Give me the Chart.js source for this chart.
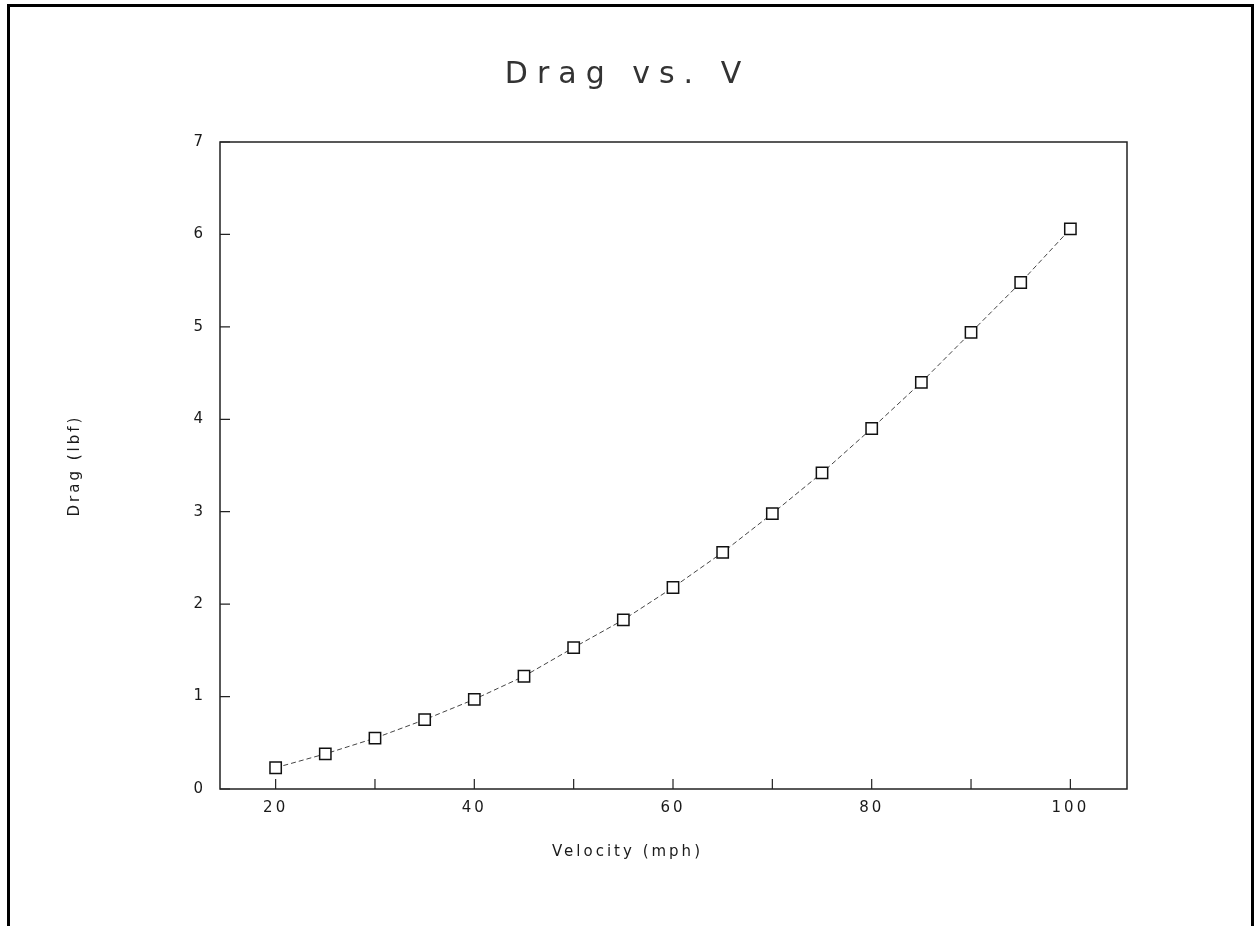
<!DOCTYPE html>
<html>
<head>
<meta charset="utf-8">
<title>Drag vs. V</title>
<script src="https://cdn.jsdelivr.net/npm/chart.js@4.4.1/dist/chart.umd.min.js"></script>
<style>
    html, body { margin: 0; padding: 0; background: #fff; }
    #wrap { position: relative; width: 1255px; height: 926px; overflow: hidden; }
    #frame {
        position: absolute; left: 7px; top: 4px; width: 1247px; height: 940px;
        border: 3px solid #000; box-sizing: border-box;
    }
    #chart { position: absolute; left: 0; top: 0; }
</style>
</head>
<body>
<div id="wrap">
    <div id="frame"></div>
    <canvas id="chart" width="1255" height="926"></canvas>
</div>
<script>
// values
const velocity = [20, 25, 30, 35, 40, 45, 50, 55, 60, 65, 70, 75, 80, 85, 90, 95, 100];
const drag = [0.23, 0.38, 0.55, 0.75, 0.97, 1.22, 1.53, 1.83, 2.18, 2.56, 2.98, 3.42, 3.90, 4.40, 4.94, 5.48, 6.06];
const xLabelEvery = 20;
const yTicks = [0, 1, 2, 3, 4, 5, 6, 7];
const xTitle = 'Velocity (mph)';

const THIN = "'DejaVu Sans ExtraLight', 'DejaVu Sans', sans-serif";
const INK = '#1a1a1a';

/**
 * Letter spacing per drawing phase: wide for the title, narrower for the axes.
 */
const spacingPlugin = {
    id: 'spacing',
    beforeDraw(chart) { chart.ctx.letterSpacing = '9px'; },
    beforeDatasetsDraw(chart) { chart.ctx.letterSpacing = '0px'; },
    afterDatasetsDraw(chart) { chart.ctx.letterSpacing = '3px'; }
};

/**
 * Plot frame, inward tick marks (the old plotter style) and the x title,
 * which sits on the page centre rather than the plot centre.
 */
const framePlugin = {
    id: 'frame',
    afterDatasetsDraw(chart) {
        const {ctx, chartArea: a, scales} = chart;
        ctx.save();
        ctx.strokeStyle = '#222';
        ctx.lineWidth = 1.5;
        ctx.strokeRect(a.left, a.top, a.right - a.left, a.bottom - a.top);
        ctx.lineWidth = 1.2;
        ctx.beginPath();
        scales.x.ticks.forEach(t => {
            const px = scales.x.getPixelForValue(t.value);
            ctx.moveTo(px, a.bottom);
            ctx.lineTo(px, a.bottom - 10);
        });
        scales.y.ticks.forEach(t => {
            const py = scales.y.getPixelForValue(t.value);
            ctx.moveTo(a.left, py);
            ctx.lineTo(a.left + 10, py);
        });
        ctx.stroke();

        ctx.fillStyle = INK;
        ctx.font = '15px ' + THIN;
        ctx.textAlign = 'center';
        ctx.textBaseline = 'middle';
        ctx.fillText(xTitle, chart.width / 2, a.bottom + 63);
        ctx.restore();
    }
};

new Chart(document.getElementById('chart'), {
    type: 'line',
    data: {
        datasets: [{
            label: 'Drag',
            data: velocity.map((v, i) => ({x: v, y: drag[i]})),
            borderColor: '#444',
            borderWidth: 1,
            borderDash: [5, 3],
            pointStyle: 'rect',
            pointRadius: 8,
            pointBorderWidth: 1.5,
            pointBorderColor: '#111',
            pointBackgroundColor: '#fff',
            tension: 0
        }]
    },
    options: {
        responsive: false,
        animation: false,
        events: [],
        layout: { padding: { left: 0, right: 0, top: 0, bottom: 27 } },
        plugins: {
            legend: { display: false },
            tooltip: { enabled: false },
            title: {
                display: true,
                text: 'Drag vs. V',
                color: '#333',
                font: { family: THIN, size: 30, weight: 'normal' },
                padding: { top: 57, bottom: 49 }
            }
        },
        scales: {
            x: {
                type: 'linear',
                min: 14.4,
                max: 105.7,
                border: { display: false },
                grid: { display: true, drawOnChartArea: false, drawTicks: false, z: 1 },
                ticks: {
                    stepSize: 10,
                    includeBounds: false,
                    autoSkip: false,
                    maxRotation: 0,
                    padding: 10,
                    z: 1,
                    color: INK,
                    font: { family: THIN, size: 15 },
                    callback: v => (v % xLabelEvery === 0 ? String(v) : '')
                },
                title: { display: false },
                afterFit: s => { s.height = 110; }
            },
            y: {
                type: 'linear',
                min: 0,
                max: 7,
                border: { display: false },
                grid: { display: true, drawOnChartArea: false, drawTicks: false, z: 1 },
                afterBuildTicks: s => { s.ticks = yTicks.map(v => ({value: v})); },
                ticks: {
                    padding: 14,
                    z: 1,
                    color: INK,
                    font: { family: THIN, size: 15 }
                },
                title: {
                    display: true,
                    text: 'Drag (lbf)',
                    color: INK,
                    font: { family: THIN, size: 15 },
                    padding: { top: 66, bottom: 0 }
                },
                afterFit: s => { s.width = 220; }
            },
            // empty right-hand box so the title centres on the page, not the plot
            yRight: {
                type: 'linear',
                position: 'right',
                min: 0,
                max: 1,
                border: { display: false },
                grid: { display: false },
                ticks: { display: false },
                afterFit: s => { s.width = 128; }
            }
        }
    },
    plugins: [spacingPlugin, framePlugin]
});
</script>
</body>
</html>
